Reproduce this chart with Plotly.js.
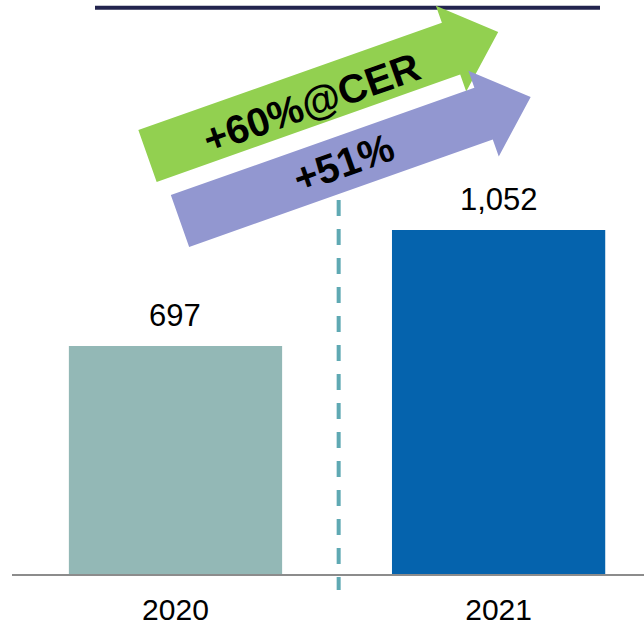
<!DOCTYPE html>
<html>
<head>
<meta charset="utf-8">
<script src="https://cdn.plot.ly/plotly-3.0.1.min.js"></script>
<style>html,body{margin:0;padding:0;background:#fff;}#chart{width:644px;height:628px;}</style>
</head>
<body>
<div id="chart"></div>
<script>
// ---- data ----
var years = ['2020', '2021'];
var revenue = [697, 1052];
var barColors = ['#93b8b6', '#0563ad'];
var growthLabels = ['+60%@CER', '+51%'];

// ---- layout constants ----
var W = 644, H = 628;
var ML = 12, MR = 0, MT = 0, MB = 54;
var PW = W - ML - MR, PH = H - MT - MB;
function fx(px) { return (px - ML) / PW; }
function fy(py) { return (H - MB - py) / PH; }

function arrowPath(tx, ty, angDeg, len, headLen, hs, hh) {
  var a = angDeg * Math.PI / 180;
  var dx = Math.cos(a), dy = -Math.sin(a);
  var nx = Math.sin(a), ny = Math.cos(a);
  var Nx = tx + (len - headLen) * dx, Ny = ty + (len - headLen) * dy;
  var pts = [
    [tx - hs * nx, ty - hs * ny],
    [Nx - hs * nx, Ny - hs * ny],
    [Nx - hh * nx, Ny - hh * ny],
    [tx + len * dx, ty + len * dy],
    [Nx + hh * nx, Ny + hh * ny],
    [Nx + hs * nx, Ny + hs * ny],
    [tx + hs * nx, ty + hs * ny]
  ];
  return 'M' + pts.map(function (p) { return fx(p[0]).toFixed(4) + ',' + fy(p[1]).toFixed(4); }).join(' L') + ' Z';
}

var ANG = 19.48;
var font = 'Arial, "Liberation Sans", sans-serif';

var trace = {
  type: 'bar',
  x: years,
  y: revenue,
  width: 0.66,
  marker: { color: barColors, line: { width: 0 } },
  hoverinfo: 'none'
};

var annotations = years.map(function (yr, i) {
  return {
    x: i, y: revenue[i], xref: 'x', yref: 'y',
    text: revenue[i].toLocaleString('en-US'),
    showarrow: false, yanchor: 'bottom', yshift: 11,
    font: { family: font, size: 31, color: '#000' }
  };
});
annotations.push({
  x: fx(311), y: fy(103), xref: 'paper', yref: 'paper',
  text: '<b>' + growthLabels[0] + '</b>', showarrow: false, textangle: -ANG,
  xanchor: 'center', yanchor: 'middle',
  font: { family: font, size: 40, color: '#000' }
});
annotations.push({
  x: fx(343), y: fy(163), xref: 'paper', yref: 'paper',
  text: '<b>' + growthLabels[1] + '</b>', showarrow: false, textangle: -ANG,
  xanchor: 'center', yanchor: 'middle',
  font: { family: font, size: 40, color: '#000' }
});

var shapes = [
  { type: 'line', xref: 'paper', yref: 'paper', x0: fx(95), x1: fx(600), y0: fy(7.7), y1: fy(7.7),
    line: { color: '#23244e', width: 4 } },
  { type: 'line', xref: 'x', yref: 'paper', x0: 0.505, x1: 0.505, y0: fy(200), y1: fy(590),
    line: { color: '#5fa9b3', width: 4, dash: '16px,13px' } },
  { type: 'path', xref: 'paper', yref: 'paper', path: arrowPath(147.5, 156, ANG, 372, 50, 27.5, 45.5),
    fillcolor: '#92d050', line: { width: 0 }, layer: 'above' },
  { type: 'path', xref: 'paper', yref: 'paper', path: arrowPath(180, 221, ANG, 372, 50, 27.5, 45.5),
    fillcolor: '#9297d0', line: { width: 0 }, layer: 'above' }
];

var layout = {
  width: W, height: H,
  margin: { l: ML, r: MR, t: MT, b: MB, pad: 0 },
  paper_bgcolor: '#fff', plot_bgcolor: '#fff',
  showlegend: false,
  font: { family: font, color: '#000' },
  xaxis: {
    type: 'category', range: [-0.506, 1.45], fixedrange: true,
    showline: true, linecolor: '#8c8c8c', linewidth: 2,
    showgrid: false, zeroline: false, ticks: '', ticklabelstandoff: 8,
    tickfont: { family: font, size: 30, color: '#000' }
  },
  yaxis: {
    range: [0, 1755], visible: false, fixedrange: true,
    showgrid: false, zeroline: false
  },
  shapes: shapes,
  annotations: annotations
};

Plotly.newPlot('chart', [trace], layout, { displayModeBar: false, staticPlot: true });
</script>
</body>
</html>
